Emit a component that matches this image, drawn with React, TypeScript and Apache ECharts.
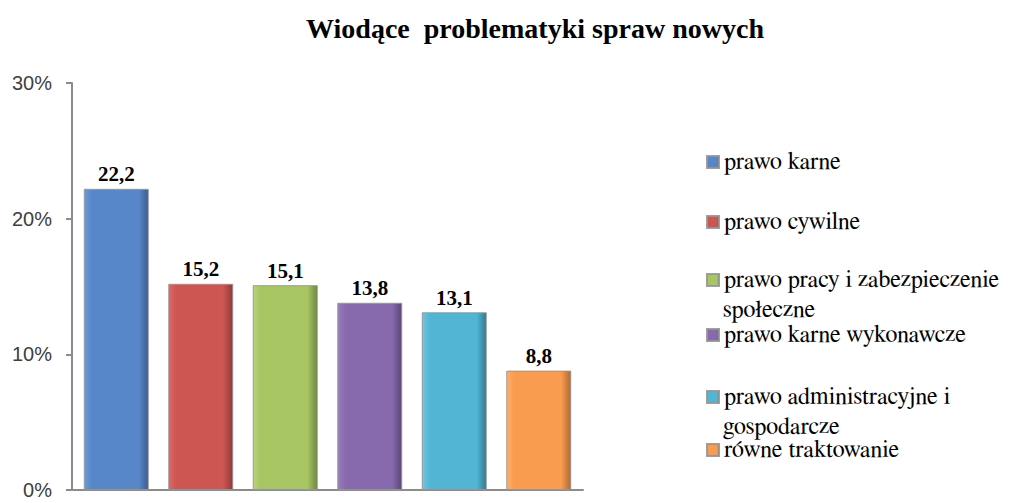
import React, { useEffect, useRef } from "react";
import * as echarts from "echarts";

const titleText = "Wiodące  problematyki spraw nowych";
const categories = [""];
const seriesNames = [
  "prawo karne",
  "prawo cywilne",
  "prawo pracy i zabezpieczenie społeczne",
  "prawo karne wykonawcze",
  "prawo administracyjne i gospodarcze",
  "równe traktowanie",
];
const legendFirstLines = [
  "prawo karne",
  "prawo cywilne",
  "prawo pracy i zabezpieczenie",
  "prawo karne wykonawcze",
  "prawo administracyjne i",
  "równe traktowanie",
];
const legendSecondLines = ["", "", "społeczne", "", "gospodarcze", ""];
const values = [22.2, 15.2, 15.1, 13.8, 13.1, 8.8];
const yTicks = [0, 10, 20, 30];

// light, base, dark shades per series
const palette = [
  ["#6c9ad8", "#5787c9", "#3b5f8f"],
  ["#dc6a67", "#cd5552", "#8f3a38"],
  ["#b8d27a", "#a7c563", "#6e8640"],
  ["#9a80bf", "#866aad", "#5a4776"],
  ["#6fc5dd", "#52b5d3", "#347a90"],
  ["#ffae6a", "#f99c4f", "#b06a30"],
];

const legendCenters = [162, 222, 280, 335, 397, 450];
const secondLineOffset = 31;
const SERIF = "Liberation Serif";
const LEGEND_FONT = "FreeSerif";

export default function App() {
  const ref = useRef<HTMLDivElement>(null);

  useEffect(() => {
    if (!ref.current) return;
    const chart = echarts.init(ref.current, null, { renderer: "svg" });

    const series = seriesNames.map((name, i) => ({
      name,
      type: "bar",
      data: [values[i]],
      barWidth: 65,
      barGap: "30%",
      itemStyle: {
        color: new echarts.graphic.LinearGradient(0, 0, 1, 0, [
          { offset: 0, color: palette[i][0] },
          { offset: 0.12, color: palette[i][1] },
          { offset: 0.85, color: palette[i][1] },
          { offset: 1, color: palette[i][2] },
        ]),
        borderColor: "rgba(150,150,150,0.9)",
        borderWidth: 1,
      },
      label: {
        show: true,
        position: "top",
        distance: 4,
        formatter: (p: any) => String(p.value).replace(".", ","),
        fontFamily: SERIF,
        fontWeight: "bold",
        fontSize: 21,
        color: "#000",
      },
    }));

    const legends = seriesNames.map((name, i) => ({
      show: true,
      data: [name],
      orient: "vertical",
      left: 706,
      top: legendCenters[i] - 13,
      icon: "rect",
      itemWidth: 12,
      itemHeight: 12,
      itemGap: 0,
      padding: 0,
      formatter: () => legendFirstLines[i],
      textStyle: {
        fontFamily: LEGEND_FONT,
        fontWeight: "normal",
        fontSize: 24,
        color: "#000",
        lineHeight: 26,
      },
    }));

    const graphics: any[] = [];
    legendSecondLines.forEach((t, i) => {
      if (!t) return;
      graphics.push({
        type: "text",
        left: 723,
        top: legendCenters[i] + secondLineOffset - 13,
        style: {
          text: t,
          fontFamily: LEGEND_FONT,
          fontWeight: "normal",
          fontSize: 24,
          fill: "#000",
        },
      });
    });

    chart.setOption({
      animation: false,
      backgroundColor: "#fff",
      title: {
        text: titleText,
        left: 530,
        textAlign: "center",
        top: 9,
        textStyle: {
          fontFamily: SERIF,
          fontWeight: "bold",
          fontSize: 28,
          color: "#000",
        },
      },
      legend: legends,
      grid: { left: 72, right: 452, top: 83, bottom: 13, containLabel: false },
      xAxis: {
        type: "category",
        data: categories,
        axisLine: { show: true, lineStyle: { color: "#8c8c8c", width: 2 } },
        axisTick: { show: false },
        axisLabel: { show: false },
      },
      yAxis: {
        type: "value",
        min: yTicks[0],
        max: yTicks[yTicks.length - 1],
        interval: yTicks[1] - yTicks[0],
        axisLine: { show: true, lineStyle: { color: "#8c8c8c", width: 2 } },
        axisTick: { show: true, length: 6, lineStyle: { color: "#8c8c8c", width: 2 } },
        splitLine: { show: false },
        axisLabel: {
          formatter: (v: number) => `${v}%`,
          fontFamily: "Liberation Sans",
          fontSize: 20,
          color: "#404040",
          margin: 20,
        },
      },
      series,
      graphic: graphics,
    });

    return () => chart.dispose();
  }, []);

  return (
    <div
      ref={ref}
      style={{ position: "fixed", left: 0, top: 0, width: 1035, height: 503 }}
    />
  );
}
